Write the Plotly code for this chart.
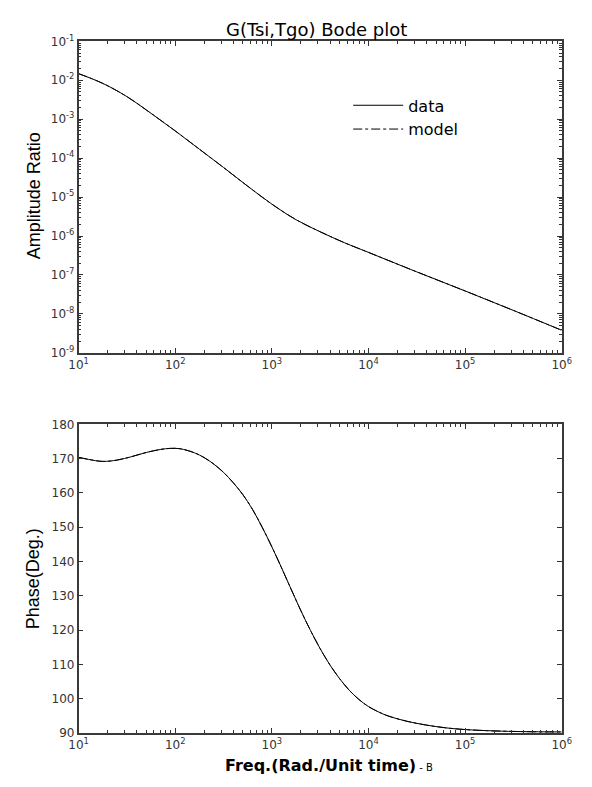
import plotly.graph_objects as go

# Amplitude ratio: log10(frequency) vs log10(amplitude)
amp_logf = [1.0, 1.25, 1.5, 1.75, 2.0, 2.25, 2.5, 2.75, 3.0, 3.25,
            3.5, 3.75, 4.0, 4.5, 5.0, 5.5, 6.0]
amp_data_log = [-1.83, -2.08, -2.42, -2.85, -3.30, -3.77, -4.24, -4.72, -5.18, -5.58,
                -5.89, -6.17, -6.42, -6.92, -7.41, -7.91, -8.42]
amp_model_log = [-1.83, -2.08, -2.42, -2.85, -3.30, -3.77, -4.24, -4.72, -5.18, -5.58,
                 -5.89, -6.17, -6.42, -6.92, -7.41, -7.91, -8.42]

# Phase (degrees): log10(frequency) vs phase
ph_logf = [1.0, 1.1, 1.25, 1.4, 1.55, 1.7, 1.85, 1.95, 2.05, 2.2, 2.3, 2.4, 2.5,
           2.6, 2.7, 2.8, 2.9, 3.0, 3.1, 3.2, 3.3, 3.4, 3.5, 3.6, 3.7, 3.8, 3.9,
           4.0, 4.1, 4.2, 4.4, 4.6, 4.8, 5.0, 5.3, 5.6, 6.0]
ph_data = [170.4, 169.8, 169.2, 169.6, 170.6, 171.8, 172.7, 173.0, 172.9, 171.7,
           170.3, 168.4, 166.0, 163.0, 159.5, 155.2, 150.0, 144.3, 138.2, 131.9,
           125.7, 119.9, 114.6, 109.9, 105.9, 102.5, 99.8, 97.7, 96.2, 95.0,
           93.4, 92.3, 91.5, 91.0, 90.6, 90.4, 90.3]
ph_model = list(ph_data)

x_ticks = [1e1, 1e2, 1e3, 1e4, 1e5, 1e6]
x_ticktext = ["10<sup>1</sup>", "10<sup>2</sup>", "10<sup>3</sup>",
              "10<sup>4</sup>", "10<sup>5</sup>", "10<sup>6</sup>"]
amp_ticks = [10.0 ** -k for k in range(1, 10)]
amp_ticktext = ["10<sup>-%d</sup>" % k for k in range(1, 10)]
ph_ticks = list(range(90, 181, 10))

amp_f = [10 ** v for v in amp_logf]
ph_f = [10 ** v for v in ph_logf]

fig = go.Figure()
fig.add_trace(go.Scatter(x=amp_f, y=[10 ** v for v in amp_data_log], mode="lines",
                         name="data", line=dict(color="black", width=1, shape="spline"),
                         xaxis="x", yaxis="y"))
fig.add_trace(go.Scatter(x=amp_f, y=[10 ** v for v in amp_model_log], mode="lines",
                         name="model",
                         line=dict(color="black", width=1, dash="dashdot", shape="spline"),
                         xaxis="x", yaxis="y"))
fig.add_trace(go.Scatter(x=ph_f, y=ph_data, mode="lines", showlegend=False,
                         line=dict(color="black", width=1, shape="spline"),
                         xaxis="x2", yaxis="y2"))
fig.add_trace(go.Scatter(x=ph_f, y=ph_model, mode="lines", showlegend=False,
                         line=dict(color="black", width=1, dash="dashdot", shape="spline"),
                         xaxis="x2", yaxis="y2"))

W, H = 592, 787


def px(x):
    return x / W


def py(y):
    return 1 - y / H


x_dom = [px(71), px(571)]
top_dom = [py(351), py(33)]
bot_dom = [py(739), py(424)]

tick_font = dict(family="DejaVu Sans, sans-serif", size=12, color="#333333")
common = dict(showline=True, linecolor="#3a3a3a", linewidth=1.5, mirror="allticks",
              ticks="inside", ticklen=5, tickcolor="#333333", showgrid=False,
              zeroline=False, tickfont=tick_font)
minor = dict(ticks="inside", ticklen=3, tickcolor="#333333", showgrid=False, dtick="D1")

fig.update_layout(
    width=W, height=H,
    margin=dict(l=0, r=0, t=0, b=0),
    paper_bgcolor="white", plot_bgcolor="white",
    showlegend=True,
    legend=dict(x=px(350), y=py(81), xanchor="left", yanchor="top",
                bgcolor="rgba(0,0,0,0)", itemwidth=50,
                font=dict(family="DejaVu Sans, sans-serif", size=16, color="black")),
    xaxis=dict(domain=x_dom, anchor="y", type="log", range=[1, 6],
               tickvals=x_ticks, ticktext=x_ticktext, minor=minor, **common),
    yaxis=dict(domain=top_dom, anchor="x", type="log", range=[-9, -1],
               tickvals=amp_ticks, ticktext=amp_ticktext, minor=minor, **common),
    xaxis2=dict(domain=x_dom, anchor="y2", type="log", range=[1, 6],
                tickvals=x_ticks, ticktext=x_ticktext, minor=minor, **common),
    yaxis2=dict(domain=bot_dom, anchor="x2", range=[90, 180],
                tickvals=ph_ticks, **common),
)

label_font = dict(family="Liberation Sans, Arial, sans-serif", size=18, color="black")
fig.add_annotation(text="G(Tsi,Tgo) Bode plot", xref="paper", yref="paper",
                   x=px(317), y=py(21), xanchor="center", yanchor="middle",
                   showarrow=False,
                   font=dict(family="DejaVu Sans, sans-serif", size=18, color="black"))
fig.add_annotation(text="Amplitude Ratio", xref="paper", yref="paper",
                   x=px(25), y=py(191), xanchor="center", yanchor="middle",
                   showarrow=False, textangle=-90, font=label_font)
fig.add_annotation(text="Phase(Deg.)", xref="paper", yref="paper",
                   x=px(24), y=py(582), xanchor="center", yanchor="middle",
                   showarrow=False, textangle=-90, font=label_font)
fig.add_annotation(text="<b>Freq.(Rad./Unit time)</b><span style='font-size:10px'> - B</span>",
                   xref="paper", yref="paper", x=px(330), y=py(772),
                   xanchor="center", yanchor="middle", showarrow=False,
                   font=dict(family="DejaVu Sans, sans-serif", size=16, color="black"))

fig.write_html("out.html")
